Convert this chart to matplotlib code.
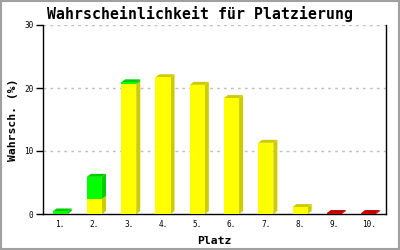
import numpy as np
import matplotlib
matplotlib.use("Agg")
import matplotlib.pyplot as plt
from matplotlib.patches import Polygon, Rectangle

# Platz 1..10, Wahrscheinlichkeit in %
plaetze = ["1.", "2.", "3.", "4.", "5.", "6.", "7.", "8.", "9.", "10."]
gelb = [0.0, 2.4, 20.6, 21.7, 20.5, 18.4, 11.3, 1.1, 0.0, 0.0]
gruen = [0.4, 3.5, 0.3, 0.0, 0.0, 0.0, 0.0, 0.0, 0.0, 0.0]
rot = [0.0, 0.0, 0.0, 0.0, 0.0, 0.0, 0.0, 0.0, 0.15, 0.15]

# colours: front, side/top
farben = [("#ffff00", "#cccc00"), ("#00ff00", "#00cc00"), ("#dd0000", "#bb0000")]

fig = plt.figure(figsize=(4, 2.5), dpi=100)
fig.patches.append(Rectangle((0.002, 0.004), 0.995, 0.992, transform=fig.transFigure,
                             fill=False, edgecolor="#a0a0a0", linewidth=1.5))
ax = fig.add_axes([0.1075, 0.144, 0.857, 0.756])

x = np.arange(1, len(plaetze) + 1)
breite = 0.44
tiefe_x = 0.117
tiefe_y = 0.476

ax.set_xlim(0.5, len(plaetze) + 0.5)
ax.set_ylim(0, 30)

for v in [10, 20, 30]:
    ax.axhline(v, color="#c0c0c0", lw=1, ls=(0, (2, 3)), zorder=0)

unten = np.zeros(len(plaetze))
serien = [gelb, gruen, rot]
gesamt = np.array(gelb) + np.array(gruen) + np.array(rot)
for werte, (vorne, seite) in zip(serien, farben):
    werte = np.array(werte)
    for i in range(len(x)):
        if werte[i] <= 0:
            continue
        x0 = x[i] - breite / 2
        x1 = x[i] + breite / 2
        y0 = unten[i]
        y1 = unten[i] + werte[i]
        # side
        ax.add_patch(Polygon([(x1, y0), (x1 + tiefe_x, y0 + tiefe_y),
                              (x1 + tiefe_x, y1 + tiefe_y), (x1, y1)],
                             closed=True, facecolor=seite, edgecolor="none", zorder=2))
        # top only on the top segment
        if np.isclose(y1, gesamt[i]):
            ax.add_patch(Polygon([(x0, y1), (x1, y1), (x1 + tiefe_x, y1 + tiefe_y),
                                  (x0 + tiefe_x, y1 + tiefe_y)],
                                 closed=True, facecolor=seite, edgecolor="none", zorder=2))
    ax.bar(x, werte, breite, bottom=unten, color=vorne, edgecolor="none", zorder=3)
    unten = unten + werte

ax.set_xticks(x)
ax.set_xticklabels(plaetze, family="DejaVu Sans Mono", fontsize=5.6)
ax.set_yticks([0, 10, 20, 30])
ax.set_yticklabels(["0", "10", "20", "30"], family="DejaVu Sans Mono", fontsize=5.6)
ax.tick_params(axis="x", length=0, pad=4)
ax.tick_params(axis="y", length=5, width=1, pad=2)

ax.spines["top"].set_visible(False)
for s in ["left", "right", "bottom"]:
    ax.spines[s].set_linewidth(1)

ax.set_xlabel("Platz", family="DejaVu Sans Mono", fontweight="bold", fontsize=8.2, labelpad=5)
ax.set_ylabel("Wahrsch. (%)", family="DejaVu Sans Mono", fontweight="bold", fontsize=8.2, labelpad=4)
fig.text(0.5, 0.944, "Wahrscheinlichkeit für Platzierung", ha="center", va="center",
         family="DejaVu Sans Mono", fontweight="bold", fontsize=10.7)

fig.savefig("out.png", dpi=100)
